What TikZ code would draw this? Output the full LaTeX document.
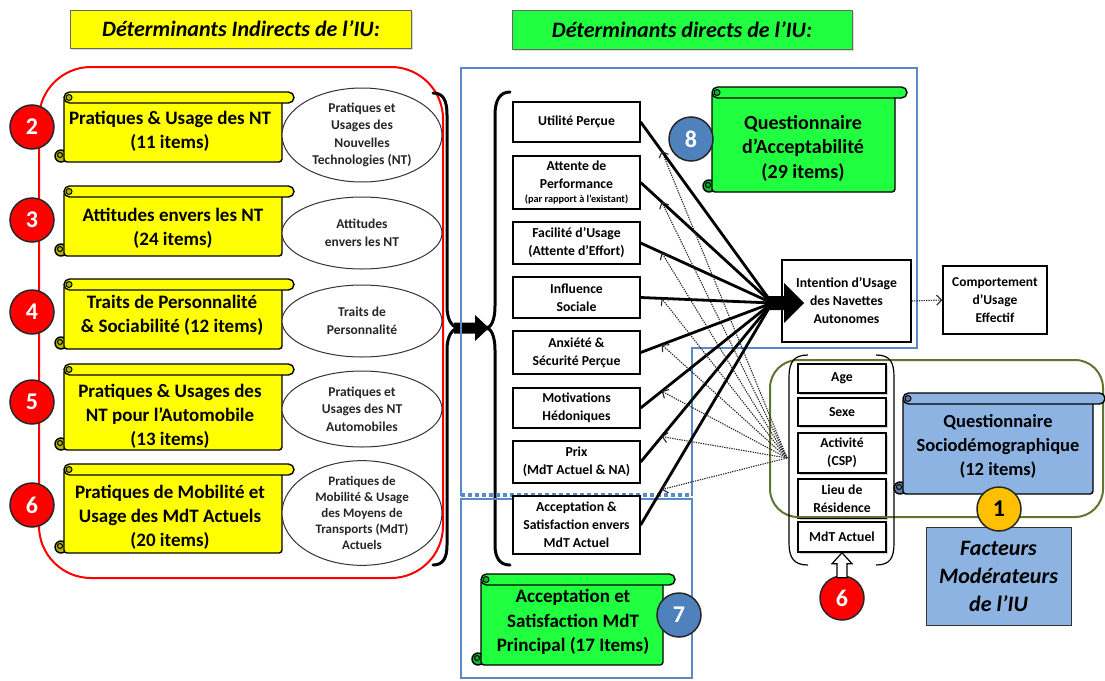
\documentclass[tikz,border=0pt]{standalone}
\usepackage{fontspec}
\setmainfont{Carlito}
\usetikzlibrary{arrows.meta,calc,shapes.geometric,shadows}
\definecolor{yel}{HTML}{FFFF00}
\definecolor{grn}{HTML}{20FF40}
\definecolor{lblue}{HTML}{8DB3E2}
\definecolor{cblue}{HTML}{4F81BD}
\definecolor{fblue}{HTML}{5A8AC6}
\definecolor{olivec}{HTML}{5F7530}
\definecolor{gold}{HTML}{FFC000}
\newcommand\scrollbg[5]{%
  \filldraw[scrl, fill=#5!70!black] (#1-3,#4-6) circle (6);
  \filldraw[scrl, fill=#5, rounded corners=3] (#1,#2+5) rectangle (#3,#4);
  \filldraw[scrl, fill=#5, rounded corners=5.5] (#1,#2) rectangle (#3+12,#2+11);
  \filldraw[scrl, line width=1, fill=#5!70!black] (#1+5,#2+5.5) circle (3);
  \draw[scrl, line width=1] (#1-4,#4-7) circle (2.5);
}
\begin{document}
\begin{tikzpicture}[x=1pt,y=-1pt,
  scrl/.style={draw=black, line width=1.4},
  numc/.style={circle, draw=black!85, line width=1.5, minimum size=44, inner sep=0pt, font=\fontsize{24}{24}\selectfont\bfseries, text=white},
  ytxt/.style={align=center, font=\fontsize{19}{24}\selectfont\bfseries},
  gtxt/.style={align=center, font=\fontsize{20}{24.5}\selectfont\bfseries},
  ell/.style={ellipse, draw=black!80, line width=1, fill=white, inner sep=0pt, align=center, text=black!85, minimum width=160, font=\fontsize{13.5}{17.5}\selectfont\bfseries},
  mbox/.style={draw=black, line width=1.3, fill=white, minimum width=127, inner sep=0pt, align=center, font=\fontsize{13.7}{18}\selectfont\bfseries},
  sbox/.style={draw=black, line width=1.5, fill=white, minimum width=88, inner sep=0pt, align=center, font=\fontsize{13.7}{18}\selectfont\bfseries, drop shadow={shadow xshift=1.5pt, shadow yshift=-1.5pt, opacity=0.35}},
  hdr/.style={draw=black!60, line width=0.8, font=\fontsize{22}{24}\selectfont\bfseries\itshape, drop shadow={shadow xshift=1.5pt, shadow yshift=-1.5pt, opacity=0.3}},
  solidc/.style={line width=2.8, black},
  dotc/.style={line width=1.1, black!85, dash pattern=on 1.3pt off 1.1pt, -{Straight Barb[length=5pt,width=10pt]}},
  bframe/.style={draw=fblue, line width=2},
  brc/.style={line width=3, black, line cap=round},
]
\useasboundingbox (0,0) rectangle (1105,680);
\fill[white] (0,0) rectangle (1105,680);

% headers
\node[hdr, fill=yel, minimum width=341, minimum height=38] (h1) at (241,29) {Déterminants Indirects de l’IU:};
\node[hdr, fill=grn, minimum width=340, minimum height=39] (h2) at (682,30) {Déterminants directs de l’IU:};

% left red group
\draw[red, line width=2, rounded corners=52] (39,67) rectangle (443,578);

\scrollbg{64}{92}{282}{162}{yel}
\node[ytxt] (y1) at (170,131) {Pratiques \& Usage des NT\\(11 items)};
\scrollbg{64}{186}{282}{256}{yel}
\node[ytxt] (y2) at (173,228) {Attitudes envers les NT\\(24 items)};
\scrollbg{64}{279}{282}{349}{yel}
\node[ytxt] (y3) at (172,315) {Traits de Personnalité\\\& Sociabilité (12 items)};
\scrollbg{64}{364}{282}{450}{yel}
\node[ytxt] (y4) at (170,416) {Pratiques \& Usages des\\NT pour l’Automobile\\(13 items)};
\scrollbg{64}{464}{282}{553}{yel}
\node[ytxt] (y5) at (170,517) {Pratiques de Mobilité et\\Usage des MdT Actuels\\(20 items)};

\node[ell, minimum height=94] (e1) at (362,135) {Pratiques et\\Usages des\\Nouvelles\\Technologies (NT)};
\node[ell, minimum height=72] (e2) at (362,233) {Attitudes\\envers les NT};
\node[ell, minimum height=72] (e3) at (362,321) {Traits de\\Personnalité};
\node[ell, minimum height=76] (e4) at (362,409) {Pratiques et\\Usages des NT\\Automobiles};
\node[ell, minimum height=102, font=\fontsize{13}{16.2}\selectfont\bfseries] (e5) at (362,513) {Pratiques de\\Mobilité \& Usage\\des Moyens de\\Transports (MdT)\\Actuels};

\node[numc, fill=red] (c2) at (32,127) {2};
\node[numc, fill=red] (c3) at (32,220) {3};
\node[numc, fill=red] (c4) at (32,312) {4};
\node[numc, fill=red] (c5) at (32,402) {5};
\node[numc, fill=red] (c6) at (32,505) {6};

% braces and arrow between them
\draw[brc] (433,93) .. controls (443,93) and (447,100) .. (447,115) -- (447,306) .. controls (447,320) and (452,328) .. (460,328) .. controls (452,328) and (447,336) .. (447,350) -- (447,545) .. controls (447,558) and (443,565) .. (433,565);
\draw[brc] (510,92) .. controls (500,92) and (495,100) .. (495,115) -- (495,306) .. controls (495,320) and (491,328) .. (486,328) .. controls (491,328) and (495,336) .. (495,350) -- (495,545) .. controls (495,558) and (500,565) .. (510,565);
\fill[black] (454,322.5) -- (475,322.5) -- (475,315) -- (489,328) -- (475,341) -- (475,333.5) -- (454,333.5) -- cycle;

% blue frames
\draw[bframe] (461,496) -- (461,68) -- (917,68) -- (917,348) -- (692,348) -- (692,496);
\draw[bframe] (461,499) rectangle (692,678);
\draw[fblue, line width=3.5, dash pattern=on 4pt off 3pt] (461,495) -- (692,495);

% middle boxes
\node[mbox, minimum height=40] (m1) at (576.5,122) {Utilité Perçue};
\node[mbox, minimum height=53] (m2) at (576.5,182.5) {Attente de\\Performance\\[-4pt]{\fontsize{10.3}{12}\selectfont (par rapport à l’existant)}};
\node[mbox, minimum height=42] (m3) at (576.5,243) {Facilité d’Usage\\(Attente d’Effort)};
\node[mbox, minimum height=41] (m4) at (576.5,297.5) {Influence\\Sociale};
\node[mbox, minimum height=43] (m5) at (576.5,352.5) {Anxiété \&\\Sécurité Perçue};
\node[mbox, minimum height=40] (m6) at (576.5,408) {Motivations\\Hédoniques};
\node[mbox, minimum height=42] (m7) at (576.5,462) {Prix\\(MdT Actuel \& NA)};
\node[mbox, minimum height=58] (m8) at (576.5,525) {Acceptation \&\\Satisfaction envers\\MdT Actuel};

\node[mbox, minimum width=129, minimum height=82] (int) at (846.5,301) {Intention d’Usage\\des Navettes\\Autonomes};
\node[mbox, minimum width=104, minimum height=68, font=\fontsize{13.5}{18}\selectfont\bfseries] (comp) at (995,300) {Comportement\\d’Usage\\Effectif};

% socio group
\draw[olivec, line width=2, rounded corners=28] (770,360) rectangle (1103,517);
\draw[line width=1.2] (808,355) .. controls (794,355) and (789,362) .. (789,377) -- (789,543) .. controls (789,558) and (794,565) .. (808,565);
\draw[line width=1.2] (876,355) .. controls (890,355) and (894,362) .. (894,377) -- (894,543) .. controls (894,558) and (890,565) .. (876,565);
\node[sbox, minimum height=29] (s1) at (842,378.5) {Age};
\node[sbox, minimum height=28] (s2) at (842,412) {Sexe};
\node[sbox, minimum height=40] (s3) at (842,453) {Activité\\(CSP)};
\node[sbox, minimum height=39] (s4) at (842,498.5) {Lieu de\\Résidence};
\node[sbox, minimum height=30] (s5) at (842,537) {MdT Actuel};
\draw[olivec, line width=2] (797,517) -- (887,517);

\node[numc, fill=red] (c6b) at (842,598) {6};
\filldraw[draw=black, fill=white, line width=1.2] (s5.south) -- ++(10,11) -- ++(-5,0) -- ++(0,14) -- ++(-10,0) -- ++(0,-14) -- ++(-5,0) -- cycle;

\scrollbg{903}{393}{1093}{494}{lblue}
\node[gtxt, font=\fontsize{18.5}{24}\selectfont\bfseries] (qs) at (998,446) {Questionnaire\\Sociodémographique\\(12 items)};
\node[draw=black!80, line width=1, fill=lblue, minimum width=145, minimum height=98, align=center, font=\fontsize{22}{28}\selectfont\bfseries\itshape] (fm) at (998.5,576) {Facteurs\\Modérateurs\\de l’IU};
\node[numc, fill=gold, text=black] (c1) at (999,509) {1};

% green scrolls
\scrollbg{712}{87}{895}{192}{grn}
\node[gtxt] (qa) at (803,148) {Questionnaire\\d’Acceptabilité\\(29 items)};
\node[numc, fill=cblue] (c8) at (691,139) {8};
\scrollbg{481}{574}{663}{665}{grn}
\node[gtxt, font=\fontsize{19}{24.5}\selectfont\bfseries] (as) at (573,622) {Acceptation et\\Satisfaction MdT\\Principal (17 Items)};
\node[numc, fill=cblue] (c7) at (679,615) {7};

% connectors
\coordinate (conv) at (772,303);
\coordinate (src) at (787,458);
\foreach \i in {1,...,8}{
  \draw[solidc] (m\i.east) -- (conv);
}
\foreach \i in {1,...,8}{
  \draw[dotc] (src) -- ($(m\i.east)!0.16!(conv)$);
}
\fill[black] (768,296) -- (784,296) -- (784,283) -- (804,303) -- (784,323) -- (784,310) -- (768,310) -- cycle;
\draw[dotc] (int.east) -- (comp.west);
\end{tikzpicture}
\end{document}
